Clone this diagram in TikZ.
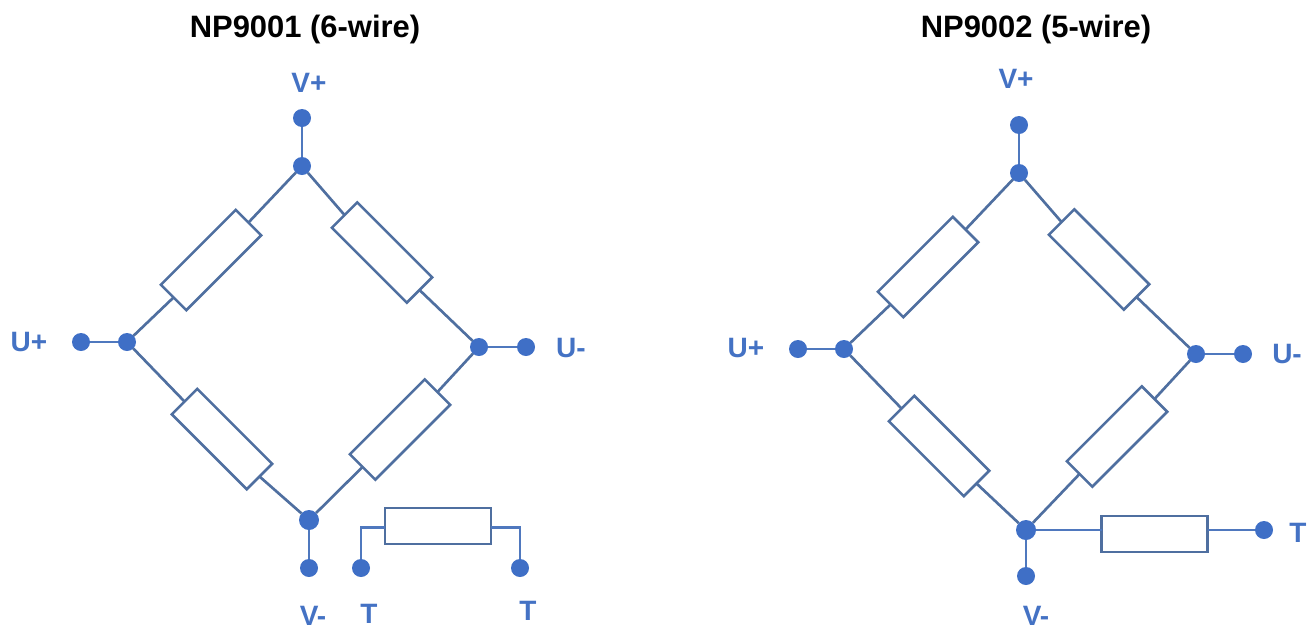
\documentclass[tikz,border=0pt]{standalone}
\usepackage{fontspec}
\setmainfont{Liberation Sans}
\definecolor{dotblue}{HTML}{3F6FC6}
\definecolor{wireblue}{HTML}{4F78BE}
\definecolor{resblue}{HTML}{4F6FA0}
\definecolor{labelblue}{HTML}{4472C4}
\tikzset{
  dotnode/.style={circle,fill=dotblue,draw=none,minimum size=13.5pt,inner sep=0pt,outer sep=0pt},
  resbox/.style={rectangle,draw=resblue,fill=white,line width=1.9pt,minimum width=79.5pt,minimum height=27pt,inner sep=0pt,outer sep=0pt},
  armline/.style={draw=resblue,line width=2pt},
  wire/.style={draw=wireblue,line width=1.9pt},
  lab/.style={text=labelblue,font=\fontsize{21}{24}\selectfont\bfseries,inner sep=0pt},
  titlelab/.style={text=black,font=\fontsize{23.2}{26}\selectfont\bfseries,inner sep=0pt}
}
\newcommand{\bridgepart}[2]{%
  \node[resbox,rotate=45] (tl) at (211,260) {};
  \node[resbox,rotate=-45] (tr) at (382,252.5) {};
  \node[resbox,rotate=-45] (bl) at (222,439) {};
  \node[resbox,rotate=45] (br) at (400,429.5) {};
  \node[dotnode] (top) at (302,166) {};
  \node[dotnode] (left) at (127,342) {};
  \node[dotnode] (right) at (479,347) {};
  \node[dotnode,minimum size=15pt] (bot) at (309,#1) {};
  \node[dotnode] (vp) at (302,118) {};
  \node[dotnode] (up) at (81,342) {};
  \node[dotnode] (um) at (526,347) {};
  \node[dotnode] (vm) at (309,#2) {};
  \draw[armline] (top) -- (tl.east) (tl.west) -- (left);
  \draw[armline] (top) -- (tr.west) (tr.east) -- (right);
  \draw[armline] (left) -- (bl.west) (bl.east) -- (bot);
  \draw[armline] (right) -- (br.east) (br.west) -- (bot);
  \draw[wire] (vp) -- (top);
  \draw[wire] (up) -- (left);
  \draw[wire] (um) -- (right);
  \draw[wire] (vm) -- (bot);
}
\begin{document}
\begin{tikzpicture}[x=0.75pt,y=-0.75pt]
\useasboundingbox (0,0) rectangle (1308,629);
\node[titlelab] (t1) at (305,29) {NP9001 (6-wire)};
\node[titlelab] (t2) at (1036,29) {NP9002 (5-wire)};
\begin{scope}[name prefix=a-]
  \bridgepart{520}{568}
  \node[resbox] (rt) at (438,526) {};
  \coordinate (rtl) at (385,527.5);
  \coordinate (rtr) at (491,527.5);
  \node[dotnode] (t1d) at (361,568) {};
  \node[dotnode] (t2d) at (520,568) {};
  \draw[wire] (t1d) |- (rtl);
  \draw[wire] (t2d) |- (rtr);
  \node[lab] at (309,83) {V+};
  \node[lab] at (29,342) {U+};
  \node[lab] at (571,348) {U-};
  \node[lab] at (313,616) {V-};
  \node[lab] at (369,614) {T};
  \node[lab] at (528,611) {T};
\end{scope}
\begin{scope}[name prefix=b-,shift={(717,7)}]
  \bridgepart{523}{569}
  \node[resbox] (rt) at (437.5,527) {};
  \coordinate (rtl) at (384.5,523);
  \coordinate (rtr) at (490.5,523);
  \node[dotnode] (t1d) at (547,523) {};
  \draw[wire] (bot) -- (rtl);
  \draw[wire] (rtr) -- (t1d);
  \node[lab] at (299,72) {V+};
  \node[lab] at (29,341) {U+};
  \node[lab] at (570,347) {U-};
  \node[lab] at (319,609) {V-};
\end{scope}
\node[lab] (tlab) at (1298,533) {T};
\end{tikzpicture}
\end{document}
